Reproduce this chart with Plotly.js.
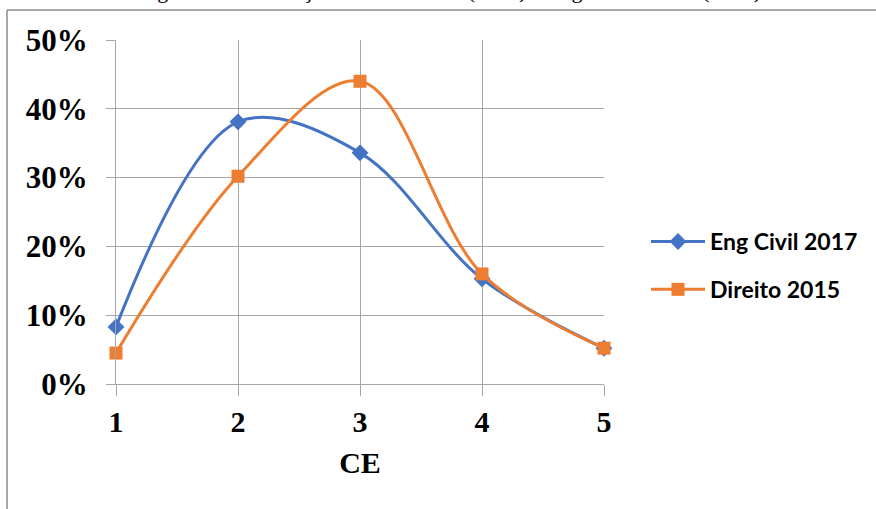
<!DOCTYPE html>
<html><head><meta charset="utf-8">
<script src="https://cdn.plot.ly/plotly-3.0.1.min.js"></script>
<style>html,body{margin:0;padding:0;background:#fff;}#chart{width:876px;height:509px;}</style>
</head><body><div id="chart"></div>
<script>
const categories = [1, 2, 3, 4, 5];
const engCivil2017 = [0.083, 0.381, 0.336, 0.153, 0.052];
const direito2015 = [0.045, 0.302, 0.440, 0.160, 0.052];
const seriesNames = ['Eng Civil 2017', 'Direito 2015'];
const titleText = 'Figura 3: Distribuição do CE Direito (2015) e Engenharia Civil (2017)';

const grid = '#a6a6a6';
const traces = [
  {x: categories, y: engCivil2017, name: seriesNames[0], legendgroup: 'a', type: 'scatter', mode: 'lines+markers',
   line: {color: '#4472C4', width: 3, shape: 'spline', smoothing: 1},
   marker: {symbol: 'diamond', size: 13, color: '#4472C4'}, cliponaxis: false},
  {x: categories, y: direito2015, name: seriesNames[1], legendgroup: 'b', type: 'scatter', mode: 'lines+markers',
   line: {color: '#ED7D31', width: 3, shape: 'spline', smoothing: 1},
   marker: {symbol: 'square', size: 13, color: '#ED7D31'}, cliponaxis: false}
];
const L = 116, R = 604, T = 40, B = 384;
const px = v => (v - L) / (R - L);
const py = v => (B - v) / (B - T);
const layout = {
  width: 876, height: 509,
  margin: {l: L, r: 876 - R, t: T, b: 509 - B, pad: 0},
  paper_bgcolor: '#fff', plot_bgcolor: '#fff',
  showlegend: true,
  legend: {x: px(646), y: py(220), xanchor: 'left', yanchor: 'top',
           font: {family: 'Lato', size: 23, color: '#000', weight: 'bold'},
           tracegroupgap: 15, itemwidth: 54, bgcolor: 'rgba(0,0,0,0)'},
  xaxis: {range: [1, 5], tickvals: categories, ticktext: categories.map(String),
          showgrid: true, gridcolor: grid, gridwidth: 1, showline: true, linecolor: grid, linewidth: 1,
          ticks: 'outside', ticklen: 11, tickcolor: grid, zeroline: false,
          tickfont: {family: 'Liberation Serif', size: 30, color: '#000', weight: 'bold'},
          title: {text: 'CE', font: {family: 'Liberation Serif', size: 30, color: '#000', weight: 'bold'}, standoff: 14}},
  yaxis: {range: [0, 0.5], dtick: 0.1, tickformat: '.0%',
          showgrid: true, gridcolor: grid, gridwidth: 1, showline: true, linecolor: grid, linewidth: 1,
          ticks: 'outside', ticklen: 9, tickcolor: grid, zeroline: false, ticklabelstandoff: 12,
          tickfont: {family: 'Liberation Serif', size: 31, color: '#000', weight: 'bold'}},
  shapes: [
    {type: 'line', xref: 'paper', yref: 'paper', x0: px(7), x1: px(7), y0: py(10), y1: py(515), line: {color: '#8c8c8c', width: 1.5}},
    {type: 'line', xref: 'paper', yref: 'paper', x0: px(7), x1: px(880), y0: py(10), y1: py(10), line: {color: '#8c8c8c', width: 1.5}}
  ],
  annotations: [
    {text: titleText, xref: 'paper', yref: 'paper', x: px(450), y: py(-9), xanchor: 'center', yanchor: 'middle',
     showarrow: false, font: {family: 'Liberation Serif', size: 22, color: '#000'}}
  ]
};
Plotly.newPlot('chart', traces, layout, {staticPlot: true, displayModeBar: false});
</script>
</body></html>
